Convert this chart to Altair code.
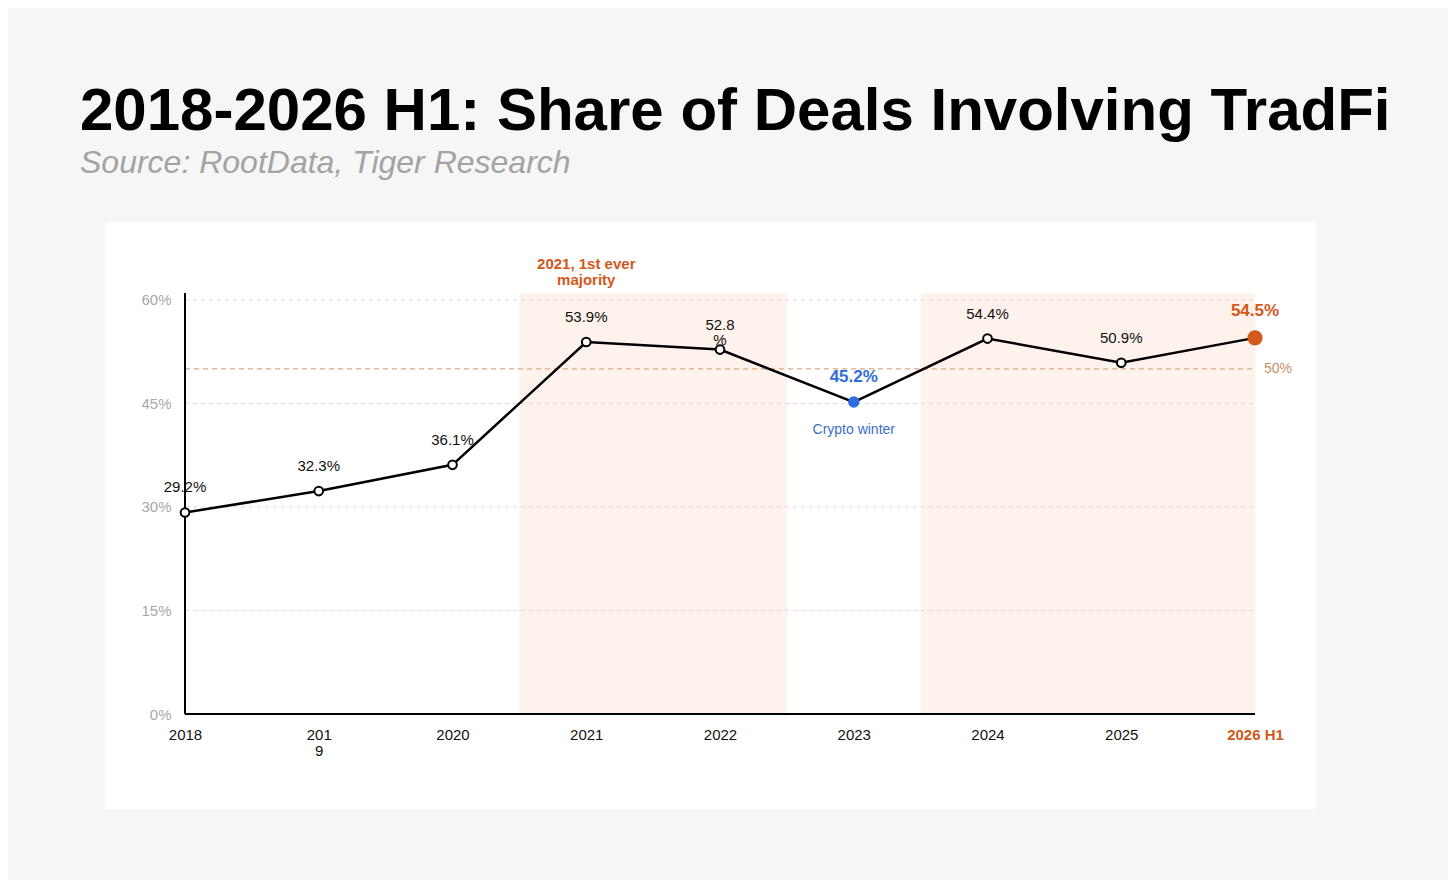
import json
import pandas as pd
import altair as alt

# data
x_labels = ["2018", "201\n9", "2020", "2021", "2022", "2023", "2024", "2025", "2026 H1"]
share = [29.2, 32.3, 36.1, 53.9, 52.8, 45.2, 54.4, 50.9, 54.5]
point_labels = ["29.2%", "32.3%", "36.1%", "53.9%", "52.8\n%", "45.2%", "54.4%", "50.9%", "54.5%"]
y_ticks = [0, 15, 30, 45, 60]
band_from = [2.5, 5.5]
band_to = [4.5, 8]
majority_level = [50]
winter_idx = 5
latest_idx = 8

title_text = "2018-2026 H1: Share of Deals Involving TradFi"
subtitle_text = "Source: RootData, Tiger Research"
majority_note = "2021, 1st ever\nmajority"
winter_note = "Crypto winter"

ORANGE = "#d2581b"
BLUE = "#2f6ddf"
W, H = 1070, 421
FONT = "Liberation Sans"

df = pd.DataFrame({"i": list(range(len(x_labels))), "share": share, "label": point_labels})
bands = pd.DataFrame({"start": band_from, "end": band_to})
grid = pd.DataFrame({"v": y_ticks[1:]})
ref = pd.DataFrame({"v": majority_level, "i": [len(x_labels) - 1], "t": ["50%"]})
one = pd.DataFrame({"k": [0]})

xscale = alt.Scale(domain=[0, len(x_labels) - 1], nice=False, zero=False)
yscale = alt.Scale(domain=[0, 61], nice=False)

label_expr = "split(%s[datum.value], '|')" % json.dumps([s.replace("\n", "|") for s in x_labels])
x_axis = alt.Axis(
    values=list(range(len(x_labels))), labelExpr=label_expr, title=None,
    domain=False, ticks=False, grid=False, labelPadding=13, labelFontSize=15,
    labelFlush=False, labelOverlap=False, labelLineHeight=16, zindex=1,
    labelColor={"condition": {"test": f"datum.value == {latest_idx}", "value": ORANGE}, "value": "#111111"},
    labelFontWeight={"condition": {"test": f"datum.value == {latest_idx}", "value": "bold"}, "value": "normal"},
)
y_axis = alt.Axis(
    values=y_ticks, labelExpr="datum.value + '%'", title=None, domain=False,
    ticks=False, grid=False, labelPadding=14, labelFontSize=15,
    labelColor="#a8a8a8", zindex=1,
)


def X(field):
    return alt.X(field, type="quantitative", scale=xscale, axis=x_axis)


def Y(field):
    return alt.Y(field, type="quantitative", scale=yscale, axis=y_axis)


card = alt.Chart(one).mark_rect(color="white").encode(
    x=alt.value(-80), x2=alt.value(1131), y=alt.value(-71), y2=alt.value(516)
)

band = alt.Chart(bands).mark_rect(color="#fdf2ec").encode(
    x=X("start"), x2="end:Q", y=alt.value(0), y2=alt.value(H)
)

gridlines = alt.Chart(grid).mark_rule(color="#dadada", strokeDash=[4, 4], strokeWidth=1).encode(
    y=Y("v"), x=alt.value(0), x2=alt.value(W)
)

ref_line = alt.Chart(ref).mark_rule(color="#e0a783", strokeDash=[5, 4], strokeWidth=1.2).encode(
    y=Y("v"), x=alt.value(0), x2=alt.value(W)
)
ref_text = alt.Chart(ref).mark_text(color="#c99068", fontSize=14, dx=23).encode(
    x=X("i"), y=Y("v"), text="t:N"
)

y_line = alt.Chart(one).mark_rule(color="black", strokeWidth=2).encode(
    x=alt.value(0), y=alt.value(0), y2=alt.value(H)
)
x_line = alt.Chart(one).mark_rule(color="black", strokeWidth=2).encode(
    x=alt.value(0), x2=alt.value(W), y=alt.value(H)
)

line = alt.Chart(df).mark_line(color="black", strokeWidth=2.5).encode(x=X("i"), y=Y("share"))

normal = f"datum.i != {winter_idx} && datum.i != {latest_idx}"
points = alt.Chart(df).transform_filter(normal).mark_circle(
    color="white", stroke="black", strokeWidth=2, size=75, opacity=1
).encode(x=X("i"), y=Y("share"))
winter_pt = alt.Chart(df).transform_filter(f"datum.i == {winter_idx}").mark_circle(
    color=BLUE, size=130, opacity=1
).encode(x=X("i"), y=Y("share"))
latest_pt = alt.Chart(df).transform_filter(f"datum.i == {latest_idx}").mark_circle(
    color=ORANGE, size=230, opacity=1
).encode(x=X("i"), y=Y("share"))

labels = alt.Chart(df).transform_filter(normal).mark_text(
    baseline="top", dy=-32, fontSize=15, lineBreak="\n", lineHeight=15, color="#111111"
).encode(x=X("i"), y=Y("share"), text="label:N")
winter_lbl = alt.Chart(df).transform_filter(f"datum.i == {winter_idx}").mark_text(
    dy=-25, fontSize=17, fontWeight="bold", color=BLUE
).encode(x=X("i"), y=Y("share"), text="label:N")
winter_txt = alt.Chart(df).transform_filter(f"datum.i == {winter_idx}").mark_text(
    dy=28, fontSize=14, color="#3b6fc9", text=winter_note
).encode(x=X("i"), y=Y("share"))
latest_lbl = alt.Chart(df).transform_filter(f"datum.i == {latest_idx}").mark_text(
    dy=-27, fontSize=17, fontWeight="bold", color=ORANGE
).encode(x=X("i"), y=Y("share"), text="label:N")
majority_txt = alt.Chart(df).transform_filter("datum.i == 3").mark_text(
    fontSize=15, fontWeight="bold", color=ORANGE, text=majority_note,
    lineBreak="\n", lineHeight=16
).encode(x=X("i"), y=alt.value(-29))

title = alt.Chart(one).mark_text(
    text=title_text, fontSize=60, fontWeight="bold", align="left",
    baseline="alphabetic", color="black"
).encode(x=alt.value(-105), y=alt.value(-163))
subtitle = alt.Chart(one).mark_text(
    text=subtitle_text, fontSize=32, fontStyle="italic", align="left",
    baseline="alphabetic", color="#a3a3a3"
).encode(x=alt.value(-105), y=alt.value(-120))

chart = alt.layer(
    card, band, gridlines, ref_line, ref_text, y_line, x_line, line, points,
    winter_pt, latest_pt, labels, winter_lbl, winter_txt, latest_lbl, majority_txt,
    title, subtitle
).properties(
    width=W, height=H,
    autosize=alt.AutoSizeParams(type="none"),
    padding={"left": 177, "top": 285, "right": 193, "bottom": 166},
    background="#f6f6f6",
).configure(font=FONT).configure_view(stroke=None)

chart.save("out.html", embed_options={"renderer": "svg", "actions": False})
